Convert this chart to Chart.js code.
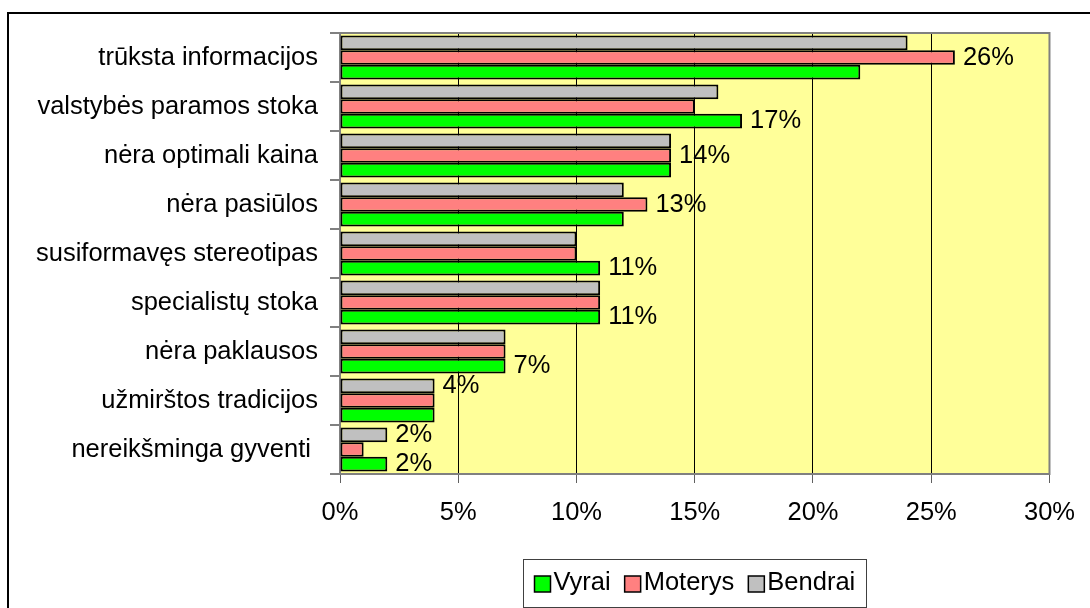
<!DOCTYPE html>
<html>
<head>
<meta charset="utf-8">
<script src="https://cdn.jsdelivr.net/npm/chart.js@4/dist/chart.umd.min.js"></script>
<style>
  body { margin: 0; background: #fff; overflow: hidden; }
  #frame { position: absolute; left: 7px; top: 12px; width: 2000px; height: 2000px;
           border-left: 2px solid #000; border-top: 2px solid #000; }
  #chartWrap { position: absolute; left: 0; top: 0; }
</style>
</head>
<body>
<div id="frame"></div>
<div id="chartWrap"><canvas id="barChart" width="1090" height="608"></canvas></div>
<script>
// Data
const categories = [
    'trūksta informacijos',
    'valstybės paramos stoka',
    'nėra optimali kaina',
    'nėra pasiūlos',
    'susiformavęs stereotipas',
    'specialistų stoka',
    'nėra paklausos',
    'užmirštos tradicijos',
    'nereikšminga gyventi '
];
const vyrai   = [22, 17, 14, 12, 11, 11, 7, 4, 2];
const moterys = [26, 15, 14, 13, 10, 11, 7, 4, 1];
const bendrai = [24, 16, 14, 12, 10, 11, 7, 4, 2];
const xTicks  = [0, 5, 10, 15, 20, 25, 30];
// which series carries the value label in each row
const labelled = [
    ['Moterys'], ['Vyrai'], ['Moterys'], ['Moterys'], ['Vyrai'],
    ['Vyrai'], ['Vyrai'], ['Bendrai'], ['Bendrai', 'Vyrai']
];

const FONT = "'Liberation Sans', Arial, sans-serif";
const SIZE = 25.5;

const plotBg = {
    id: 'plotBg',
    beforeDraw(chart) {
        const { ctx, chartArea: a } = chart;
        ctx.save();
        ctx.fillStyle = '#FFFF99';
        ctx.fillRect(a.left, a.top, a.right - a.left, a.bottom - a.top);
        ctx.restore();
    },
    beforeDatasetsDraw(chart) {
        const { ctx, chartArea: a } = chart;
        ctx.save();
        ctx.strokeStyle = '#808080';
        ctx.lineWidth = 2;
        ctx.strokeRect(a.left, a.top, a.right - a.left, a.bottom - a.top);
        ctx.restore();
    }
};

const valueLabels = {
    id: 'valueLabels',
    afterDatasetsDraw(chart) {
        const ctx = chart.ctx;
        ctx.save();
        ctx.font = SIZE + 'px ' + FONT;
        ctx.fillStyle = '#000';
        ctx.textAlign = 'left';
        ctx.textBaseline = 'middle';
        labelled.forEach((names, i) => {
            names.forEach(name => {
                const di = chart.data.datasets.findIndex(d => d.label === name);
                const bar = chart.getDatasetMeta(di).data[i];
                const v = chart.data.datasets[di].data[i];
                ctx.fillText(v + '%', bar.x + 8, bar.y);
            });
        });
        ctx.restore();
    }
};

const boxLegend = {
    id: 'boxLegend',
    afterDraw(chart) {
        const ctx = chart.ctx;
        const a = chart.chartArea;
        const items = chart.data.datasets.slice().reverse();
        ctx.save();
        ctx.font = SIZE + 'px ' + FONT;
        const sq = 16, gap = 3, space = 14, pad = 11;
        const widths = items.map(d => sq + gap + ctx.measureText(d.label).width);
        const total = widths.reduce((s, w) => s + w, 0) + space * (items.length - 1);
        const boxW = Math.round(total + pad * 2);
        const boxX = Math.round((a.left + a.right) / 2 - boxW / 2) + 0.5;
        const boxY = 559.5, boxH = 48;
        ctx.fillStyle = '#fff';
        ctx.fillRect(boxX, boxY, boxW, boxH);
        ctx.strokeStyle = '#404040';
        ctx.lineWidth = 1;
        ctx.strokeRect(boxX, boxY, boxW, boxH);
        let x = boxX + pad;
        const cy = 584;
        items.forEach((d, k) => {
            ctx.fillStyle = d.backgroundColor;
            ctx.fillRect(x, cy - sq / 2, sq, sq);
            ctx.strokeStyle = '#000';
            ctx.lineWidth = 1.5;
            ctx.strokeRect(x, cy - sq / 2, sq, sq);
            ctx.fillStyle = '#000';
            ctx.textAlign = 'left';
            ctx.textBaseline = 'middle';
            ctx.fillText(d.label, x + sq + gap, cy - 1);
            x += widths[k] + space;
        });
        ctx.restore();
    }
};

const ctx = document.getElementById('barChart').getContext('2d');
new Chart(ctx, {
    type: 'bar',
    data: {
        labels: categories,
        datasets: [
            { label: 'Bendrai', data: bendrai, backgroundColor: '#C0C0C0' },
            { label: 'Moterys', data: moterys, backgroundColor: '#FF8080' },
            { label: 'Vyrai', data: vyrai, backgroundColor: '#00FF00' }
        ].map(d => Object.assign(d, {
            borderColor: '#000',
            borderWidth: 2,
            borderSkipped: false,
            categoryPercentage: 0.9,
            barPercentage: 1
        }))
    },
    options: {
        indexAxis: 'y',
        responsive: false,
        animation: false,
        layout: { padding: { top: 33, right: 40, left: 0, bottom: 0 } },
        plugins: {
            legend: { display: false },
            tooltip: { enabled: false }
        },
        scales: {
            y: {
                afterFit: s => { s.width = 340; },
                ticks: { color: '#000', padding: 12, font: { size: SIZE, family: FONT } },
                grid: { drawOnChartArea: false, offset: true, tickLength: 10, color: '#808080', lineWidth: 2 },
                border: { color: '#808080', width: 2 }
            },
            x: {
                min: 0,
                max: 30,
                afterFit: s => { s.height = 134; },
                afterBuildTicks: s => { s.ticks = xTicks.map(v => ({ value: v })); },
                ticks: {
                    color: '#000',
                    padding: 15,
                    font: { size: SIZE, family: FONT },
                    callback: value => value + '%'
                },
                grid: {
                    color: ctx => (ctx.tick && (ctx.tick.value === 0 || ctx.tick.value === 30)) ? '#808080' : '#000',
                    lineWidth: 1,
                    tickLength: 9,
                    tickColor: '#606060'
                },
                border: { color: '#808080', width: 2 }
            }
        }
    },
    plugins: [plotBg, valueLabels, boxLegend]
});
</script>
</body>
</html>
